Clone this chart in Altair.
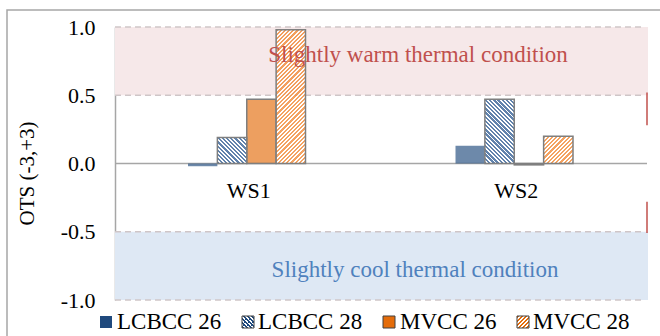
import math

import altair as alt
import pandas as pd

# ---- data -----------------------------------------------------------------
categories = ["WS1", "WS2"]
series = ["LCBCC 26", "LCBCC 28", "MVCC 26", "MVCC 28"]
ws1_values = [-0.02, 0.19, 0.47, 0.98]
ws2_values = [0.13, 0.47, -0.01, 0.20]
y_ticks = [-1.0, -0.5, 0.0, 0.5, 1.0]
warm_zone = [0.5, 1.0]
cool_zone = [-1.0, -0.5]
zone_labels = ["Slightly warm thermal condition", "Slightly cool thermal condition"]
marker_spans = [[0.28, 0.52], [-0.51, -0.28]]

rows = []
for cat, vals in zip(categories, [ws1_values, ws2_values]):
    for s, v in zip(series, vals):
        rows.append({"cat": cat, "series": s, "value": v})
df = pd.DataFrame(rows)

# ---- layout & style --------------------------------------------------------
W, H = 535, 273
PAD = {"left": 115, "top": 27, "right": 10, "bottom": 36}
SERIF = "Liberation Serif"
BLUE = "#1F497D"
ORANGE = "#E46C0A"
BAR_ALPHA = 0.65
HATCH_ALPHA = 0.8
EDGE = "#7F7F7F"
AXIS_GREY = "#A6A6A6"
GROUP_RANGE = [73.0, 190.5]            # pixel span of the four bars inside a category
BAR_W = (GROUP_RANGE[1] - GROUP_RANGE[0]) / 4
BAND_END = W - 2


def hatch_fill(color, w, h, direction, period=4.2, duty=0.55):
    """Diagonal stripes at 45 degrees, as a linear gradient in bbox units."""
    span = w + h
    k = span / (w * w + h * h)
    if direction == "/":
        x1, y1, x2, y2 = 0.0, 0.0, k * w, k * h
    else:
        x1, y1, x2, y2 = 0.0, 1.0, k * w, 1.0 - k * h
    stops = []
    n = int(math.ceil(span / period))
    for i in range(n):
        a = min(i * period / span, 1.0)
        b = min((i + duty) * period / span, 1.0)
        c = min((i + 1) * period / span, 1.0)
        stops += [
            {"offset": a, "color": color},
            {"offset": b, "color": color},
            {"offset": b, "color": "white"},
            {"offset": c, "color": "white"},
        ]
    return alt.LinearGradient(gradient="linear", x1=x1, y1=y1, x2=x2, y2=y2,
                              stops=stops)


y_scale = alt.Scale(domain=[-1, 1], nice=False, zero=False)
y_axis = alt.Axis(
    values=y_ticks,
    labelExpr="datum.value < 0 ? '-' + format(-datum.value, '.1f') : format(datum.value, '.1f')",
    title="OTS (-3,+3)",
    titleX=-88, titleY=146, titleAngle=270,
    titleAlign="center", titleBaseline="middle",
)
x_enc = alt.X("cat:N", scale=alt.Scale(domain=categories, paddingInner=0, paddingOuter=0),
              axis=None)
xo_enc = alt.XOffset("series:N", scale=alt.Scale(domain=series, range=GROUP_RANGE,
                                                  paddingInner=0, paddingOuter=0))


def yq(field):
    return alt.Y(field, scale=y_scale, axis=y_axis)


one = alt.Data(values=[{"k": 0}])

# outer frame of the figure
frame = alt.Chart(one).mark_rect(fillOpacity=0, stroke=AXIS_GREY, strokeWidth=1.5).encode(
    x=alt.value(-108), x2=alt.value(W + 100), y=alt.value(-17), y2=alt.value(H + 60)
)

# comfort zones
zones = pd.DataFrame({
    "lo": [warm_zone[0], cool_zone[0]],
    "hi": [warm_zone[1], cool_zone[1]],
    "zone": ["warm", "cool"],
})
zone_fill = alt.Chart(zones).mark_rect().encode(
    x=alt.value(0), x2=alt.value(BAND_END),
    y=yq("lo:Q"), y2="hi:Q",
    fill=alt.Fill("zone:N", scale=alt.Scale(domain=["warm", "cool"],
                                            range=["#F6E8E9", "#DEE8F4"]), legend=None),
)
edges = pd.DataFrame({"v": warm_zone + cool_zone})
zone_edges = alt.Chart(edges).mark_rule(color="#CFC6C8", strokeWidth=1.5,
                                         strokeDash=[6, 4]).encode(
    x=alt.value(0), x2=alt.value(BAND_END - 3), y=yq("v:Q")
)

zero_line = alt.Chart(pd.DataFrame({"v": [0.0]})).mark_rule(
    color=AXIS_GREY, strokeWidth=1.5).encode(
    x=alt.value(0), x2=alt.value(BAND_END - 1), y=yq("v:Q")
)

spans = pd.DataFrame({"lo": [s[0] for s in marker_spans], "hi": [s[1] for s in marker_spans]})
markers = alt.Chart(spans).mark_rule(color="#C0504D", strokeWidth=1.5).encode(
    x=alt.value(BAND_END - 1), y=yq("lo:Q"), y2="hi:Q"
)

# bars
base = alt.Chart(df).encode(x=x_enc, xOffset=xo_enc, y=yq("value:Q"), y2=alt.datum(0))
bars_l26 = base.mark_bar(fill=BLUE, fillOpacity=BAR_ALPHA, strokeWidth=0).transform_filter(
    alt.datum.series == "LCBCC 26")
bars_m26 = base.mark_bar(fill=ORANGE, fillOpacity=BAR_ALPHA, stroke=EDGE,
                         strokeWidth=1.5).transform_filter(alt.datum.series == "MVCC 26")

hatched = []
for cat, vals in zip(categories, [ws1_values, ws2_values]):
    for s, v, colour, direction in [
        ("LCBCC 28", vals[1], "#3A6498", "\\"),
        ("MVCC 28", vals[3], "#F28C3A", "/"),
    ]:
        h = max(abs(v) * H / 2, 1.0)
        hatched.append(
            base.mark_bar(fill=hatch_fill(colour, BAR_W, h, direction),
                          fillOpacity=HATCH_ALPHA, stroke=EDGE, strokeWidth=1.5)
            .transform_filter((alt.datum.series == s) & (alt.datum.cat == cat))
        )

# texts
cat_labels = alt.Chart(pd.DataFrame({"cat": categories})).mark_text(
    font=SERIF, fontSize=22, color="black", baseline="alphabetic").encode(
    x=x_enc, y=alt.value(171), text="cat:N"
)
warm_text = alt.Chart(one).mark_text(
    font=SERIF, fontSize=23, color="#C0504D", baseline="alphabetic", align="center").encode(
    x=alt.value(303), y=alt.value(35), text=alt.value(zone_labels[0])
)
cool_text = alt.Chart(one).mark_text(
    font=SERIF, fontSize=23, color="#4F81BD", baseline="alphabetic", align="center").encode(
    x=alt.value(300), y=alt.value(250), text=alt.value(zone_labels[1])
)

# legend row drawn below the plot
ICON = 12
icon_x = [-15, 127, 268, 402]
text_x = [2, 143, 285, 418]
icon_y = 289
text_y = 302
icon_fills = [
    BLUE,
    hatch_fill(BLUE, ICON, ICON, "\\", period=4.0),
    ORANGE,
    hatch_fill(ORANGE, ICON, ICON, "/", period=4.0),
]
icon_strokes = [None, "#404040", "#404040", "#404040"]
legend_layers = []
for name, ix, tx, fill, stroke in zip(series, icon_x, text_x, icon_fills, icon_strokes):
    props = {"fill": fill}
    if stroke:
        props.update(stroke=stroke, strokeWidth=1)
    else:
        props.update(strokeWidth=0)
    legend_layers.append(
        alt.Chart(one).mark_rect(**props).encode(
            x=alt.value(ix), x2=alt.value(ix + ICON),
            y=alt.value(icon_y), y2=alt.value(icon_y + ICON))
    )
    legend_layers.append(
        alt.Chart(one).mark_text(font=SERIF, fontSize=23, color="black",
                                 align="left", baseline="alphabetic").encode(
            x=alt.value(tx), y=alt.value(text_y), text=alt.value(name))
    )

chart = alt.layer(
    frame, zone_fill, zone_edges, zero_line, markers,
    bars_l26, bars_m26, *hatched,
    cat_labels, warm_text, cool_text, *legend_layers,
).properties(
    width=W, height=H,
    padding=PAD,
    autosize=alt.AutoSizeParams(type="none"),
    background="white",
).configure_view(stroke=None).configure_axis(
    domainColor=AXIS_GREY, domainWidth=1.5, ticks=False, tickSize=0, grid=False,
    labelFont=SERIF, labelFontSize=22, labelColor="black", labelPadding=20,
    titleFont=SERIF, titleFontSize=21, titleFontWeight="normal", titleColor="black",
)

chart.save("out.html", embed_options={"renderer": "svg", "actions": False})
